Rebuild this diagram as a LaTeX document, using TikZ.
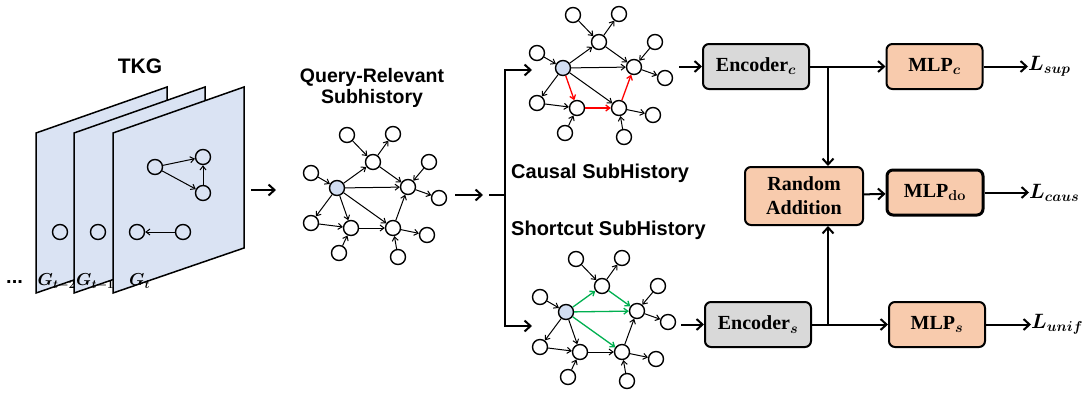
\documentclass[tikz,border=0pt]{standalone}
\usepackage{amsmath}
\usepackage{fontspec}
\newfontfamily\headsans{Liberation Sans}
\newfontfamily\boxserif{Liberation Serif}
\usetikzlibrary{arrows.meta}

% larger subscripts for the sizes used below
\DeclareMathSizes{17}{17}{12}{9}
\DeclareMathSizes{20}{20}{15}{11}
\DeclareMathSizes{20.5}{20.5}{13.5}{10}

\definecolor{framefill}{RGB}{218,227,243}
\definecolor{qfill}{RGB}{210,222,242}
\definecolor{encfill}{RGB}{217,217,217}
\definecolor{mlpfill}{RGB}{248,203,173}
\definecolor{shortgreen}{RGB}{0,176,80}

\tikzset{
  gnode/.style={circle, draw, line width=1.4pt, minimum size=15pt, inner sep=0pt, fill=white},
  qnode/.style={gnode, fill=qfill},
  tnode/.style={circle, draw, line width=1.4pt, minimum size=15pt, inner sep=0pt},
  gedge/.style={-{Straight Barb[length=4pt,width=6pt]}, line width=1pt},
  flow/.style={-{Straight Barb[length=6pt,width=11pt]}, line width=2pt},
  tkgframe/.style={draw, line width=1.5pt, fill=framefill, line join=miter},
  headtext/.style={font=\headsans\fontsize{20}{22}\selectfont\bfseries, inner sep=0pt},
  glabel/.style={font=\fontsize{17}{20}\selectfont\boldmath, inner sep=0pt},
  lossl/.style={font=\fontsize{20.5}{24}\selectfont\boldmath, inner sep=0pt, anchor=west},
  blockbox/.style={draw, line width=2pt, rounded corners=6pt, minimum height=45pt,
    font=\boxserif\fontsize{20}{24}\selectfont\bfseries\boldmath, align=center, inner sep=2pt},
  encbox/.style={blockbox, fill=encfill, minimum width=106pt},
  mlpbox/.style={blockbox, fill=mlpfill, minimum width=96pt},
  ed1/.style={}, ed2/.style={}, ed3/.style={}, ed4/.style={}, ed5/.style={},
  ed6/.style={}, ed7/.style={}, ed8/.style={}, ed9/.style={}, ed10/.style={},
  ed11/.style={}, ed12/.style={}, ed13/.style={}, ed14/.style={}, ed15/.style={},
  ed16/.style={}, ed17/.style={},
}

% One subhistory graph: #1 = name prefix, (#2,#3) = position of the query node
\newcommand\subhist[3]{%
  \begin{scope}[shift={(#2,#3)}]
    \node[qnode] (#1q) at (0,0) {};
    \node[gnode] (#1a) at (-26,-15) {};
    \node[gnode] (#1b) at (10,-53) {};
    \node[gnode] (#1c) at (56,-54) {};
    \node[gnode] (#1d) at (36,-26) {};
    \node[gnode] (#1e) at (92,-26) {};
    \node[gnode] (#1f) at (71,-1) {};
    \node[gnode] (#1g) at (102,10) {};
    \node[gnode] (#1h) at (-26,35) {};
    \node[gnode] (#1i) at (14,40) {};
    \node[gnode] (#1j) at (56,40) {};
    \node[gnode] (#1k) at (90,47) {};
    \node[gnode] (#1l) at (2,65) {};
    \node[gnode] (#1m) at (61,69) {};
    \draw[gedge,ed1] (#1a) -- (#1q);
    \draw[gedge,ed2] (#1q) -- (#1d);
    \draw[gedge,ed3] (#1b) -- (#1d);
    \draw[gedge,ed4] (#1d) -- (#1c);
    \draw[gedge,ed5] (#1d) -- (#1f);
    \draw[gedge,ed6] (#1e) -- (#1f);
    \draw[gedge,ed7] (#1q) -- (#1f);
    \draw[gedge,ed8] (#1f) -- (#1g);
    \draw[gedge,ed9] (#1q) -- (#1h);
    \draw[gedge,ed10] (#1q) -- (#1i);
    \draw[gedge,ed11] (#1q) -- (#1j);
    \draw[gedge,ed12] (#1h) -- (#1i);
    \draw[gedge,ed13] (#1i) -- (#1j);
    \draw[gedge,ed14] (#1j) -- (#1f);
    \draw[gedge,ed15] (#1j) -- (#1k);
    \draw[gedge,ed16] (#1l) -- (#1i);
    \draw[gedge,ed17] (#1m) -- (#1j);
  \end{scope}}

\begin{document}
\begin{tikzpicture}[x=1pt, y=-1pt]
  \useasboundingbox (0,0) rectangle (1083,397);

  % ---------- TKG snapshots ----------
  \node[headtext, font=\headsans\fontsize{21}{24}\selectfont\bfseries] (tkg) at (140,66) {TKG};
  \node[headtext, anchor=west] (dots) at (6,282) {...};

  \draw[tkgframe] (36,133) -- (167,87) -- (167,248) -- (36,293) -- cycle;
  \node[tnode] (s2) at (60,232) {};
  \node[glabel, anchor=west] (g2) at (37.5,282) {$G_{t-2}$};

  \draw[tkgframe] (74,133) -- (205,87) -- (205,248) -- (74,293) -- cycle;
  \node[tnode] (s1) at (98,232) {};
  \node[glabel, anchor=west] (g1) at (76,282) {$G_{t-1}$};

  \draw[tkgframe] (113,133) -- (244,87) -- (244,248) -- (113,293) -- cycle;
  \node[tnode] (ta) at (155,167) {};
  \node[tnode] (tb) at (203,157) {};
  \node[tnode] (tc) at (203,193) {};
  \node[tnode] (td) at (137,232) {};
  \node[tnode] (te) at (183,232) {};
  \draw[gedge] (ta) -- (tb);
  \draw[gedge] (ta) -- (tc);
  \draw[gedge] (tc) -- (tb);
  \draw[gedge] (te) -- (td);
  \node[glabel, anchor=west] (g0) at (129,281) {$G_{t}$};

  \coordinate (tkgout) at (251,190);
  \coordinate (qin) at (276,190);
  \draw[flow] (tkgout) -- (qin);

  % ---------- query-relevant subhistory ----------
  \node[headtext, align=center, font=\headsans\fontsize{19.5}{21}\selectfont\bfseries] (qtitle) at (372,88)
    {Query-Relevant\\Subhistory};
  \subhist{r}{337}{188}

  \coordinate (qout) at (455,195);
  \coordinate (qend) at (483,195);
  \draw[flow] (qout) -- (qend);
  \coordinate (sp0) at (489,195);
  \coordinate (sp) at (505,195);
  \coordinate (ctop) at (532,70);
  \coordinate (cbot) at (532,326);
  \draw[line width=2pt] (sp0) -- (sp);
  \draw[flow, line join=miter] (sp) |- (ctop);
  \draw[flow, line join=miter] (sp) |- (cbot);

  % ---------- causal and shortcut subhistories ----------
  \begin{scope}[ed10/.style={red, line width=1.3pt}, ed13/.style={red, line width=1.3pt},
                ed14/.style={red, line width=1.3pt}]
    \subhist{c}{563}{68}
  \end{scope}
  \begin{scope}[ed2/.style={shortgreen, line width=1.3pt}, ed5/.style={shortgreen, line width=1.3pt},
                ed7/.style={shortgreen, line width=1.3pt}, ed11/.style={shortgreen, line width=1.3pt}]
    \subhist{s}{566}{312}
  \end{scope}

  \node[headtext, anchor=west] (ctitle) at (511,173) {Causal SubHistory};
  \node[headtext, anchor=west] (stitle) at (511,230) {Shortcut SubHistory};

  % ---------- encoders and heads ----------
  \node[encbox] (encc) at (756,66.5) {Encoder$_{c}$};
  \node[encbox] (encs) at (758,324.5) {Encoder$_{s}$};
  \node[mlpbox] (mlpc) at (934.5,66.5) {MLP$_{c}$};
  \node[mlpbox] (mlps) at (937,324.5) {MLP$_{s}$};
  \node[mlpbox, line width=3pt] (mlpdo) at (935,192.5) {MLP$_{\mathbf{do}}$};
  \node[blockbox, fill=mlpfill, minimum width=118pt, minimum height=58pt] (ra) at (804,196)
    {Random\\Addition};

  \coordinate (cout) at (679,66.5);
  \coordinate (sout) at (681,324.5);
  \draw[flow] (cout) -- (encc);
  \draw[flow] (sout) -- (encs);
  \draw[flow] (encc) -- (mlpc);
  \draw[flow] (encs) -- (mlps);
  \coordinate (brc) at (828,66.5);
  \coordinate (brs) at (828,324.5);
  \draw[flow] (brc) -- (brc |- ra.north);
  \draw[flow] (brs) -- (brs |- ra.south);
  \draw[flow] (ra) -- (mlpdo);

  \node[lossl] (lsup) at (1028,66.5) {$L_{sup}$};
  \node[lossl] (lcaus) at (1029,192.5) {$L_{caus}$};
  \node[lossl] (lunif) at (1031,324.5) {$L_{unif}$};
  \draw[flow] (mlpc) -- (lsup);
  \draw[flow] (mlpdo) -- (lcaus);
  \draw[flow] (mlps) -- (lunif);
\end{tikzpicture}
\end{document}
